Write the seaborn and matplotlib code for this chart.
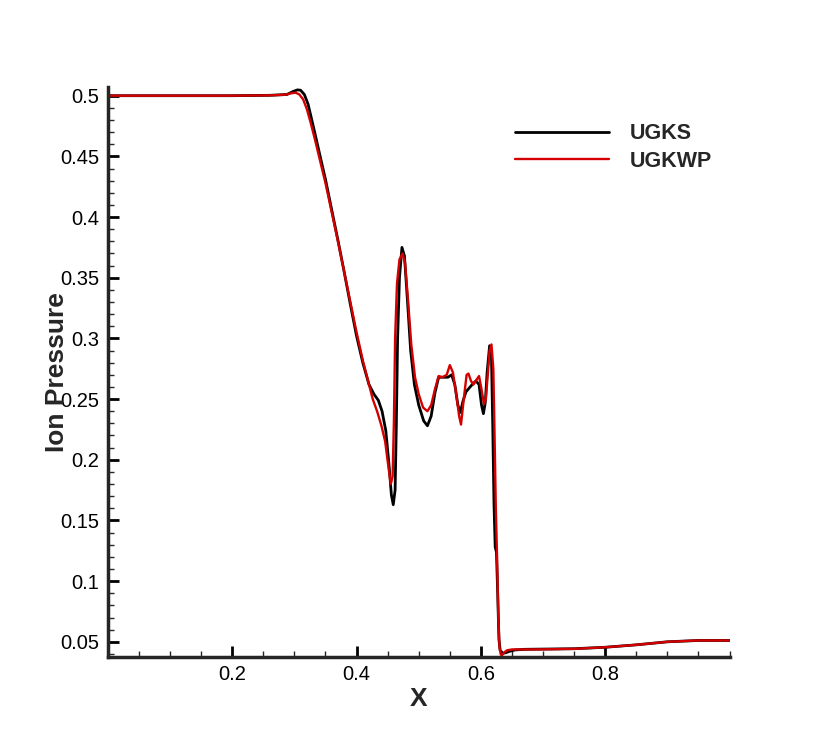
import numpy as np
import pandas as pd
import seaborn as sns
import matplotlib.pyplot as plt
from matplotlib.ticker import MultipleLocator

# UGKS profile
x_ugks = [0.0, 0.10, 0.20, 0.26, 0.288, 0.298, 0.305, 0.310, 0.316, 0.322, 0.328,
          0.333, 0.341, 0.350, 0.360, 0.370, 0.380, 0.390, 0.400, 0.410, 0.420,
          0.428, 0.435, 0.441, 0.447, 0.452, 0.456, 0.459, 0.462, 0.464, 0.466,
          0.469, 0.473, 0.477, 0.482, 0.487, 0.493, 0.500, 0.508, 0.514, 0.520,
          0.526, 0.532, 0.540, 0.547, 0.553, 0.558, 0.563, 0.567, 0.571, 0.576,
          0.581, 0.586, 0.592, 0.597, 0.601, 0.604, 0.607, 0.610, 0.614, 0.617,
          0.619, 0.621, 0.623, 0.625, 0.627, 0.629, 0.631, 0.635, 0.640, 0.645,
          0.655, 0.67, 0.70, 0.75, 0.80, 0.85, 0.90, 0.95, 1.0]
p_ugks = [0.5, 0.5, 0.5, 0.5003, 0.501, 0.5035, 0.5048, 0.5045, 0.501, 0.493, 0.480,
          0.469, 0.451, 0.431, 0.406, 0.381, 0.355, 0.328, 0.302, 0.280, 0.262,
          0.254, 0.249, 0.240, 0.224, 0.197, 0.171, 0.163, 0.175, 0.230, 0.300,
          0.350, 0.375, 0.368, 0.330, 0.290, 0.262, 0.245, 0.232, 0.228, 0.236,
          0.255, 0.268, 0.268, 0.268, 0.270, 0.262, 0.245, 0.239, 0.248, 0.256,
          0.259, 0.262, 0.265, 0.262, 0.245, 0.238, 0.247, 0.272, 0.294, 0.285,
          0.230, 0.165, 0.128, 0.124, 0.090, 0.052, 0.043, 0.0405, 0.041, 0.042,
          0.0433, 0.0438, 0.0440, 0.0443, 0.0455, 0.0475, 0.0500, 0.0511, 0.0511]

# UGKWP profile
x_ugkwp = [0.0, 0.10, 0.20, 0.26, 0.285, 0.295, 0.302, 0.308, 0.314, 0.320, 0.326,
           0.333, 0.341, 0.350, 0.360, 0.370, 0.380, 0.390, 0.400, 0.410, 0.420,
           0.426, 0.433, 0.440, 0.446, 0.451, 0.455, 0.458, 0.460, 0.462, 0.465,
           0.469, 0.474, 0.478, 0.483, 0.488, 0.494, 0.500, 0.507, 0.514, 0.520,
           0.526, 0.532, 0.538, 0.545, 0.550, 0.555, 0.560, 0.565, 0.568, 0.572,
           0.577, 0.580, 0.584, 0.588, 0.593, 0.597, 0.601, 0.605, 0.608, 0.611,
           0.614, 0.617, 0.620, 0.622, 0.624, 0.626, 0.628, 0.630, 0.632, 0.634,
           0.637, 0.642, 0.650, 0.67, 0.70, 0.75, 0.80, 0.85, 0.90, 0.95, 1.0]
p_ugkwp = [0.5, 0.5, 0.5, 0.5003, 0.5008, 0.502, 0.5025, 0.501, 0.497, 0.489, 0.478,
           0.464, 0.447, 0.428, 0.404, 0.380, 0.355, 0.330, 0.305, 0.282, 0.262,
           0.250, 0.240, 0.228, 0.215, 0.195, 0.180, 0.186, 0.230, 0.300, 0.345,
           0.365, 0.370, 0.362, 0.330, 0.295, 0.268, 0.254, 0.243, 0.240, 0.245,
           0.258, 0.269, 0.268, 0.270, 0.278, 0.272, 0.255, 0.236, 0.229, 0.248,
           0.270, 0.271, 0.265, 0.262, 0.266, 0.269, 0.258, 0.246, 0.250, 0.270,
           0.290, 0.295, 0.275, 0.220, 0.160, 0.120, 0.070, 0.045, 0.0395, 0.039,
           0.041, 0.043, 0.0437, 0.0437, 0.0438, 0.0442, 0.0455, 0.0475, 0.0500, 0.0511, 0.0511]

x_ticks = [0.2, 0.4, 0.6, 0.8]
y_ticks = [0.05, 0.1, 0.15, 0.2, 0.25, 0.3, 0.35, 0.4, 0.45, 0.5]

df1 = pd.DataFrame({'x': x_ugks, 'p': p_ugks})
df2 = pd.DataFrame({'x': x_ugkwp, 'p': p_ugkwp})

sns.set_style('ticks')
plt.rcParams['font.family'] = ['Liberation Sans', 'DejaVu Sans']

fig = plt.figure(figsize=(8.3, 7.39), dpi=100)
ax = fig.add_axes([0.130, 0.111, 0.749, 0.771])

sns.lineplot(data=df1, x='x', y='p', color='black', lw=2.0, label='UGKS', ax=ax, sort=False)
sns.lineplot(data=df2, x='x', y='p', color='#d40000', lw=1.7, label='UGKWP', ax=ax, sort=False)

ax.set_xlim(0, 1)
ax.set_ylim(0.0375, 0.507)
ax.set_xticks(x_ticks)
ax.set_xticklabels([str(t) for t in x_ticks])
ax.set_yticks(y_ticks)
ax.set_yticklabels([str(t) for t in y_ticks])
ax.xaxis.set_minor_locator(MultipleLocator(0.05))
ax.yaxis.set_minor_locator(MultipleLocator(0.01))
ax.tick_params(which='major', direction='in', length=8, width=2, labelsize=14.5, pad=6, colors='black')
ax.tick_params(which='minor', direction='in', length=4, width=1)

for s in ['top', 'right']:
    ax.spines[s].set_visible(False)
for s in ['left', 'bottom']:
    ax.spines[s].set_linewidth(2.5)

# the y label sits over the 0.25 tick label, as in the original figure
ax.set_xlabel('X', fontsize=19, fontweight='bold', labelpad=2)
ax.set_ylabel('Ion Pressure', fontsize=19, fontweight='bold', labelpad=-6)

leg = ax.legend(loc='upper left', bbox_to_anchor=(0.620, 0.833), bbox_transform=fig.transFigure,
                frameon=False, handlelength=4.4, handletextpad=0.95, labelspacing=0.3,
                borderpad=0, borderaxespad=0, prop={'weight': 'bold', 'size': 15.5})

fig.savefig('out.png', dpi=100)
